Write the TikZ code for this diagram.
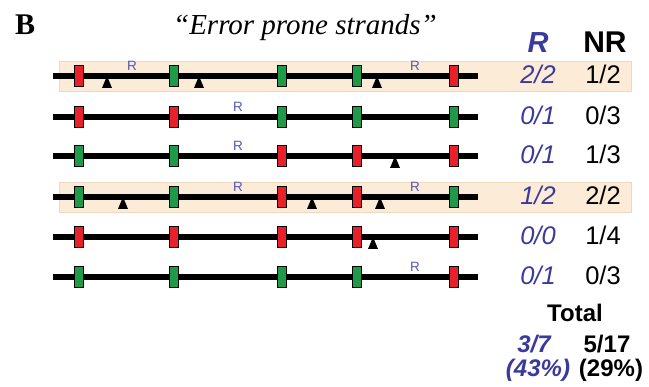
\documentclass[tikz,border=0pt]{standalone}
\usepackage{fontspec}
\setmainfont{Liberation Serif}
\newfontfamily\arialf{Liberation Sans}
\definecolor{mred}{HTML}{E8202A}
\definecolor{mgreen}{HTML}{1E9A48}
\definecolor{hl}{HTML}{FCEBD6}
\definecolor{hlb}{HTML}{EED8BE}
\definecolor{vblue}{HTML}{3A3A9C}
\definecolor{rblue}{HTML}{5558B0}
\newcommand\strandrow[7]{%
  \coordinate (#1s) at (53,#2); \coordinate (#1e) at (478,#2);
  \draw[strand] (#1s) -- (#1e);
  \node[#3] (#1m1) at (79,#2) {};
  \node[#4] (#1m2) at (174,#2) {};
  \node[#5] (#1m3) at (282,#2) {};
  \node[#6] (#1m4) at (357,#2) {};
  \node[#7] (#1m5) at (454,#2) {};
}
\newcommand\mytri[2]{\fill[black] (#1,#2) -- ++(5,12) -- ++(-10,0) -- cycle;}
\begin{document}
\begin{tikzpicture}[x=1pt,y=-1pt,
  strand/.style={line width=6.5pt},
  mk/.style={draw=black, line width=1.2pt, minimum width=9pt, minimum height=21pt, inner sep=0pt, rectangle},
  mr/.style={mk, fill=mred},
  mg/.style={mk, fill=mgreen},
  rlab/.style={font=\arialf\fontsize{13.5}{13.5}\selectfont, text=rblue, inner sep=0pt, anchor=base},
  val/.style={font=\arialf\itshape\fontsize{25.5}{25.5}\selectfont, text=vblue, inner sep=0pt, anchor=base},
  nval/.style={font=\arialf\fontsize{25.5}{25.5}\selectfont, inner sep=0pt, anchor=base},
  hlbox/.style={fill=hl, draw=hlb, line width=0.8pt}
]
\useasboundingbox (0,0) rectangle (649,387);
% highlights
\filldraw[hlbox] (59,61) rectangle (631,91);
\filldraw[hlbox] (59,182) rectangle (631,212);
% strands
\mytri{107}{76}\mytri{199}{76}\mytri{377}{76}
\mytri{395}{156}
\mytri{123}{197}\mytri{312}{197}\mytri{380}{197}
\mytri{373}{237}
\strandrow{a}{76}{mr}{mg}{mg}{mg}{mr}
\strandrow{b}{117}{mr}{mr}{mg}{mg}{mg}
\strandrow{c}{156}{mg}{mg}{mr}{mr}{mr}
\strandrow{d}{197}{mg}{mg}{mr}{mr}{mg}
\strandrow{e}{237}{mr}{mr}{mr}{mr}{mr}
\strandrow{f}{277}{mg}{mg}{mg}{mg}{mr}
% R labels
\node[rlab] (ra1) at (132,71) {R};
\node[rlab] (ra2) at (415,71) {R};
\node[rlab] (rb1) at (238,112) {R};
\node[rlab] (rc1) at (238,151) {R};
\node[rlab] (rd1) at (238,192) {R};
\node[rlab] (rd2) at (415,192) {R};
\node[rlab] (rf1) at (415,272) {R};
% titles
\node[font=\bfseries\fontsize{30}{30}\selectfont, anchor=base west, inner sep=0pt] (B) at (15,35) {B};
\node[font=\itshape\fontsize{29}{29}\selectfont, anchor=base, inner sep=0pt] (title) at (305,35) {“Error prone strands”};
\node[font=\arialf\bfseries\itshape\fontsize{29}{29}\selectfont, text=vblue, anchor=base, inner sep=0pt] (hR) at (538,53) {R};
\node[font=\arialf\bfseries\fontsize{30}{30}\selectfont, anchor=base, inner sep=0pt] (hNR) at (605,53) {NR};
% values
\node[val] (va) at (538,84) {2/2};  \node[nval] (na) at (603,84) {1/2};
\node[val] (vb) at (538,125) {0/1}; \node[nval] (nb) at (603,125) {0/3};
\node[val] (vc) at (538,164) {0/1}; \node[nval] (nc) at (603,164) {1/3};
\node[val] (vd) at (538,205) {1/2}; \node[nval] (nd) at (603,205) {2/2};
\node[val] (ve) at (538,245) {0/0}; \node[nval] (ne) at (603,245) {1/4};
\node[val] (vf) at (538,285) {0/1}; \node[nval] (nf) at (603,285) {0/3};
% totals
\node[font=\arialf\bfseries\fontsize{24}{24}\selectfont, anchor=base, inner sep=0pt] (tot) at (575,322) {Total};
\node[font=\arialf\bfseries\itshape\fontsize{24}{24}\selectfont, text=vblue, anchor=base, inner sep=0pt] (t1) at (534,353) {3/7};
\node[font=\arialf\bfseries\fontsize{24}{24}\selectfont, anchor=base, inner sep=0pt] (t2) at (607,353) {5/17};
\node[font=\arialf\bfseries\itshape\fontsize{24}{24}\selectfont, text=vblue, anchor=base, inner sep=0pt] (p1) at (538,377) {(43\%)};
\node[font=\arialf\bfseries\fontsize{24}{24}\selectfont, anchor=base, inner sep=0pt] (p2) at (611,377) {(29\%)};
\end{tikzpicture}
\end{document}
